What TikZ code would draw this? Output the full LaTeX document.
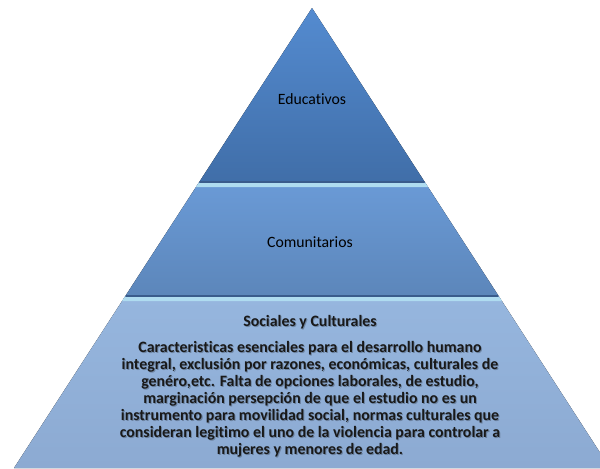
\documentclass[tikz,border=0pt]{standalone}
\usepackage{fontspec}
\setmainfont{Carlito}[Ligatures=NoCommon]
\usepackage{tikz}
\usetikzlibrary{calc}
\definecolor{topupper}{RGB}{84,139,208}
\definecolor{toplower}{RGB}{64,110,168}
\definecolor{midupper}{RGB}{106,154,214}
\definecolor{midlower}{RGB}{92,134,186}
\definecolor{baseupper}{RGB}{150,182,222}
\definecolor{baselower}{RGB}{140,170,210}
\definecolor{bevel}{RGB}{175,220,240}
\definecolor{edgeshade}{RGB}{58,92,140}

\begin{document}
\begin{tikzpicture}[x=0.75pt,y=-0.75pt,
  tierlabel/.style={font=\fontsize{11.8}{14}\selectfont, text=black},
  bodytext/.style={font=\bfseries\fontsize{11.9}{12.8}\selectfont, align=center, text=black!90},
  shade/.style={bodytext, text=black, text opacity=0.25}]
\useasboundingbox (0,0) rectangle (600,468);
\begin{scope}
\clip (0,0) rectangle (600,468);
% pyramid corners
\coordinate (apex) at (312,8);
\coordinate (l1) at (198.6,183); \coordinate (r1) at (425.4,183);
\coordinate (l2) at (124.7,297); \coordinate (r2) at (499.3,297);
\coordinate (l3) at (14,468); \coordinate (r3) at (610,468);
% tiers
\fill[top color=baseupper, bottom color=baselower] (l2) -- (r2) -- (r3) -- (l3) -- cycle;
\fill[top color=midupper, bottom color=midlower] (l1) -- (r1) -- (r2) -- (l2) -- cycle;
\fill[top color=topupper, bottom color=toplower] (apex) -- (r1) -- (l1) -- cycle;
% bevels
\fill[bevel] (l1) -- (r1) -- ($(r1)+(2.6,4)$) -- ($(l1)+(-2.6,4)$) -- cycle;
\fill[bevel] (l2) -- (r2) -- ($(r2)+(2.6,4)$) -- ($(l2)+(-2.6,4)$) -- cycle;
\draw[edgeshade, line width=1pt] ($(l1)+(1,-1)$) -- ($(r1)+(-1,-1)$);
\draw[edgeshade, line width=1pt] ($(l2)+(1,-1)$) -- ($(r2)+(-1,-1)$);
\end{scope}
% labels
\node[tierlabel] (educ) at (312,99) {Educativos};
\node[tierlabel] (comun) at (310,242) {Comunitarios};
\node[shade] (titleshade) at (311,322.7) {Sociales y Culturales};
\node[bodytext] (title) at (310,321.7) {Sociales y Culturales};
\node[shade] (bodyshade) at (311,400.5) {Caracteristicas esenciales para el desarrollo humano\\
integral, exclusión por razones, económicas, culturales de\\
genéro,etc. Falta de opciones laborales, de estudio,\\
marginación persepción de que el estudio no es un\\
instrumento para movilidad social, normas culturales que\\
consideran legitimo el uno de la violencia para controlar a\\
mujeres y menores de edad.};
\node[bodytext] (body) at (310,399.5) {Caracteristicas esenciales para el desarrollo humano\\
integral, exclusión por razones, económicas, culturales de\\
genéro,etc. Falta de opciones laborales, de estudio,\\
marginación persepción de que el estudio no es un\\
instrumento para movilidad social, normas culturales que\\
consideran legitimo el uno de la violencia para controlar a\\
mujeres y menores de edad.};
\end{tikzpicture}
\end{document}
